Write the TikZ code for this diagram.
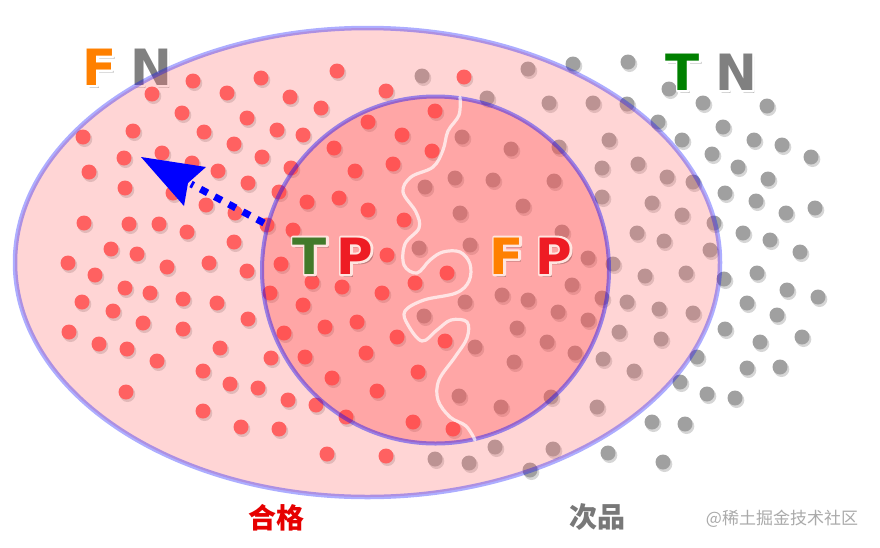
\documentclass[tikz,border=0pt]{standalone}
\usepackage{fontspec}
\newfontfamily\labfont{DejaVu Sans}
\newfontfamily\cjkfont{Noto Sans CJK SC}
\usetikzlibrary{calc}
\definecolor{dotred}{RGB}{255,88,88}
\definecolor{dotgrey}{RGB}{160,160,160}
\definecolor{ellfill}{RGB}{255,118,118}
\definecolor{cirfill}{RGB}{255,60,60}
\definecolor{lblorange}{RGB}{255,128,0}
\definecolor{lblgreen}{RGB}{0,128,0}
\definecolor{lblgreenb}{RGB}{66,122,42}
\definecolor{lblgrey}{RGB}{128,128,128}
\definecolor{lblred}{RGB}{238,28,36}
\definecolor{txtred}{RGB}{230,0,0}
\definecolor{txtgrey}{RGB}{120,120,120}
\definecolor{wmgrey}{RGB}{170,170,170}
\newcommand\dotset[2]{%
  \foreach \x/\y in {#2} {%
    \fill[black,opacity=0.16] (\x+1.5,\y+2.2) circle[radius=7.8];
    \fill[#1] (\x,\y) circle[radius=7.5];
  }}
% stroke-only glyph outline in the given rgb colour
\newcommand\outl[2]{\special{pdf:literal direct 1 Tr 1 j 4.4 w #1 RG}#2\special{pdf:literal direct 0 Tr}}
\newcommand\fancyletter[5]{%
  \node[lab,text=black,opacity=0.25] at ($(#2)+(2.6,3.2)$) {#5};
  \node[lab,text=#3] at (#2) {\outl{#4}{#5}};
  \node[lab,text=#3] (#1) at (#2) {#5};}
\begin{document}
\begin{tikzpicture}[x=1pt,y=-1pt,
  lab/.style={font=\labfont\bfseries\fontsize{50}{50}\selectfont, inner sep=0pt},
  ellstyle/.style={fill=ellfill, fill opacity=0.3, draw=blue, draw opacity=0.32, line width=4.5},
  cirstyle/.style={fill=cirfill, fill opacity=0.3, draw=blue, draw opacity=0.4, line width=4},
  wave/.style={draw=white, draw opacity=0.7, line width=3.2, line cap=round},
  cjklab/.style={font=\cjkfont\bfseries\fontsize{28}{28}\selectfont, inner sep=0pt}]
\useasboundingbox (0,0) rectangle (880,547);
\fill[white] (0,0) rectangle (880,547);
% red dots
\dotset{dotred}{193/81,261/78,152/94,227/93,290/97,182/113,247/118,83/137,133/131,204/132,277/130,303/135,234/144,162/153,124/158,262/157,192/163,89/172,218/171,291/168,125/188,248/183,173/193,206/205,279/192,235/213,307/202,84/223,129/224,159/224,187/232,267/225,234/242,293/230,111/249,137/254,68/263,167/267,209/263,247/271,281/264,95/275,
125/288,150/293,82/302,113/311,183/299,217/303,270/293,143/323,183/329,248/319,303/305,69/332,99/344,127/349,220/348,284/333,157/361,203/371,271/358,305/357,230/384,258/388,126/392,288/400,203/411,241/427,279/429,316/405,
312/282,342/287,382/293,415/283,447/273,325/327,357/322,397/337,445/341,366/353,418/372,332/378,377/391,346/417,413/422,453/429,327/454,386/456,
337/71,464/77,386/91,321/108,435/111,368/122,402/135,334/148,432/151,393/164,355/171,339/198,368/210,404/220,387/255}
% grey dots
\dotset{dotgrey}{422/76,528/69,573/64,487/98,549/103,462/137,511/149,559/147,455/178,425/187,493/180,554/181,460/213,523/206,562/232,470/245,419/248,
628/62,669/89,703/103,767/106,593/103,627/104,658/122,723/127,609/140,682/140,754/140,782/145,811/157,712/154,602/168,638/164,667/177,693/182,738/167,768/179,602/197,652/203,725/193,756/201,682/215,714/223,786/213,815/208,637/233,664/241,710/250,743/233,770/240,800/252,588/258,613/264,645/276,686/273,724/279,757/273,
787/290,818/297,602/298,627/302,659/309,693/313,747/303,777/315,588/320,619/332,661/339,725/329,760/342,802/337,603/359,697/357,634/371,747/368,780/367,680/382,707/394,735/398,597/407,652/422,685/424,608/453,663/462,
502/295,528/300,572/285,465/302,424/316,558/312,517/328,547/342,475/347,575/353,514/362,459/396,501/407,551/397,495/447,553/449,435/459,469/463,530/470}
% FN and TN labels (under the ellipse)
\coordinate (pFN1) at (100,67);
\coordinate (pFN2) at (151,67);
\coordinate (pTN1) at (683,72);
\coordinate (pTN2) at (736,72);
\fancyletter{fnF}{pFN1}{lblorange}{1 1 1}{F}
\fancyletter{fnN}{pFN2}{lblgrey}{1 1 1}{N}
\fancyletter{tnT}{pTN1}{lblgreen}{1 1 1}{T}
\fancyletter{tnN}{pTN2}{lblgrey}{1 1 1}{N}
% ellipse and circle
\coordinate (ellc) at (367.5,262.5);
\coordinate (circ) at (435.5,270);
\path[ellstyle] (ellc) ellipse[x radius=352.5, y radius=234.5];
\path[cirstyle] (circ) circle[radius=173.5];
% wavy boundary
\draw[wave] plot[smooth,tension=0.6] coordinates {(460,97) (459,115) (448,131) (443,150) (433,167) (411,177) (403,192) (416,212) (419,228) (405,244) (404,265) (417,273) (430,260) (443,252) (460,252) (470,264) (469,281) (456,293) (424,300) (405,311) (408,325) (422,341) (437,330) (451,320) (467,322) (467,338) (455,357) (439,380) (438,400) (450,417) (466,426) (475,440)};
% TP and FP labels
\coordinate (pTP1) at (310,256);
\coordinate (pTP2) at (355,256);
\coordinate (pFP1) at (507,256);
\coordinate (pFP2) at (554,256);
\fancyletter{tpT}{pTP1}{lblgreenb}{1 0.9 0.88}{T}
\fancyletter{tpP}{pTP2}{lblred}{1 0.9 0.88}{P}
\fancyletter{fpF}{pFP1}{lblorange}{1 0.9 0.88}{F}
\fancyletter{fpP}{pFP2}{lblred}{1 0.9 0.88}{P}
% dashed arrow
\coordinate (arrS) at (264,223);
\coordinate (arrN) at (191,184);
\coordinate (arrTip) at (141,157);
\coordinate (arrW1) at (206,167);
\coordinate (arrW2) at (184,206);
\coordinate (arrNotch) at (188,183);
\draw[blue, line width=7, dash pattern=on 8 off 8] (arrS) -- (arrN);
\fill[blue] (arrTip) -- (arrW1) -- (arrNotch) -- (arrW2) -- cycle;
% bottom texts
\node[cjklab, text=txtred] (hege) at (276,518) {合格};
\node[cjklab, text=txtgrey] (cipin) at (597,517) {次品};
\node[font=\cjkfont\fontsize{17}{17}\selectfont, text=wmgrey, inner sep=0pt] (wm) at (782,519) {@稀土掘金技术社区};
\end{tikzpicture}
\end{document}
